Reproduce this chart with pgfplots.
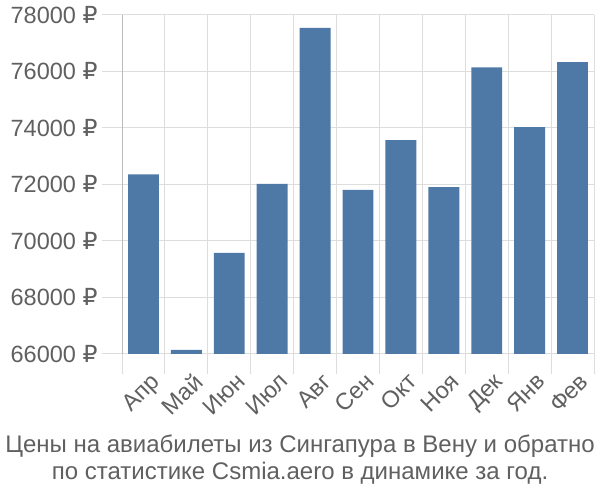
\documentclass[border=0pt]{standalone}
\usepackage{pgfplots}
\pgfplotsset{compat=1.18}
\usepackage{fontspec}
\setmainfont{Liberation Sans}
\newfontfamily\rub{DejaVu Sans}
\definecolor{barc}{HTML}{4E79A7}
\definecolor{txt}{HTML}{606060}
\definecolor{grd}{HTML}{DDDDDD}
\definecolor{axl}{HTML}{AAAAAA}
\begin{document}
\begin{tikzpicture}
\path[use as bounding box] (0,0) rectangle (600bp,500bp);
\begin{axis}[
  at={(122bp,146bp)}, anchor=south west,
  scale only axis, width=472bp, height=339bp,
  xmin=-0.5, xmax=10.5, ymin=66000, ymax=78000,
  axis line style={draw=none},
  tick align=outside, major tick length=20bp,
  xtick pos=lower, ytick pos=left,
  xtick={-0.5,0.5,...,10.5}, xticklabels={},
  xmajorgrids, ymajorgrids,
  grid style={grd, line width=1bp},
  tick style={grd, line width=1bp},
  extra x ticks={0,1,2,3,4,5,6,7,8,9,10},
  extra x tick labels={Апр,Май,Июн,Июл,Авг,Сен,Окт,Ноя,Дек,Янв,Фев},
  extra x tick style={major tick length=0pt, grid=none,
    xticklabel style={rotate=45, anchor=north east, xshift=-5bp, yshift=-13bp}},
  ytick={66000,68000,...,78000},
  scaled y ticks=false,
  yticklabel={\pgfmathprintnumber[1000 sep={}]{\tick}~{\rub ₽}},
  /pgf/number format/assume math mode=true,
  ticklabel style={font=\fontsize{23.5bp}{27bp}\selectfont, text=txt},
  yticklabel style={xshift=-1bp},
]
\addplot[ybar, bar width=0.72, fill=barc, draw=none, bar shift=0pt] coordinates {
(0,72360) (1,66150) (2,69580) (3,72020) (4,77540) (5,71810) (6,73570) (7,71910) (8,76150) (9,74030) (10,76330)
};
\draw[axl, line width=1.2bp] (axis cs:-0.5,78000) -- (axis cs:-0.5,66000) -- ++(0,-20bp);
\end{axis}
\node[text=txt, align=center, font=\fontsize{24bp}{27bp}\selectfont] at (300bp,40bp) {Цены на авиабилеты из Сингапура в Вену и обратно\\по статистике Csmia.aero в динамике за год.};
\end{tikzpicture}
\end{document}
